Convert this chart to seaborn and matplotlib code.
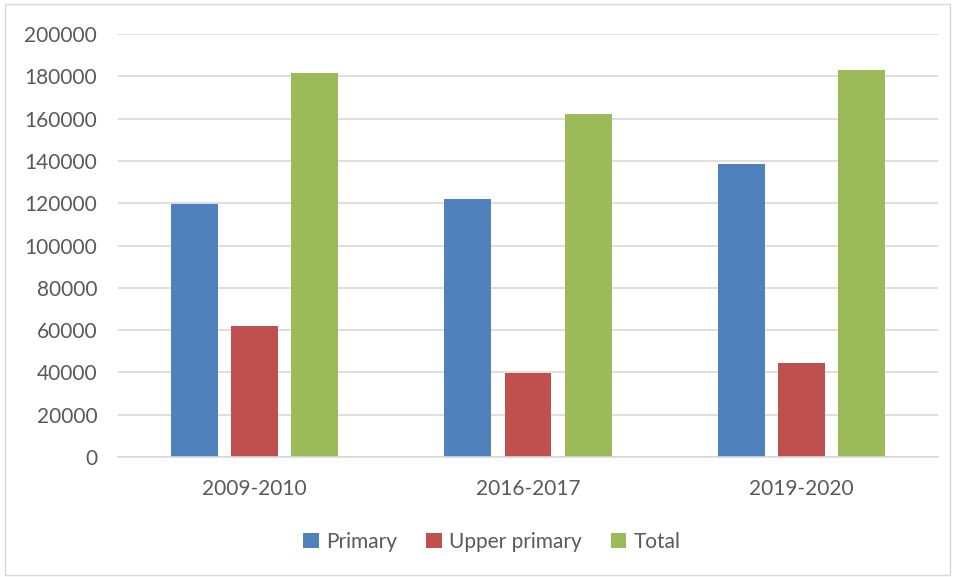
import matplotlib
matplotlib.use("Agg")
import matplotlib.pyplot as plt
import seaborn as sns
import pandas as pd
from matplotlib.patches import Rectangle

years = ["2009-2010", "2016-2017", "2019-2020"]
series = ["Primary", "Upper primary", "Total"]
primary = [119500, 122100, 138300]
upper_primary = [61900, 39700, 44500]
total = [181400, 162000, 183000]
colors = ["#4F81BD", "#C0504D", "#9BBB59"]
yticks = [0, 20000, 40000, 60000, 80000, 100000, 120000, 140000, 160000, 180000, 200000]

rows = []
for name, vals in zip(series, [primary, upper_primary, total]):
    for y, v in zip(years, vals):
        rows.append({"year": y, "series": name, "value": v})
df = pd.DataFrame(rows)

sns.set_theme(style="white")
plt.rcParams["font.family"] = ["Lato", "DejaVu Sans"]

fig = plt.figure(figsize=(9.55, 5.77), dpi=100)
ax = fig.add_axes([118/955, 1-457/577, 820/955, 423/577])

sns.barplot(data=df, x="year", y="value", hue="series", order=years,
            hue_order=series, palette=colors, width=0.66, gap=0.22,
            saturation=1, ax=ax, legend=True, edgecolor="none")

ax.set_xlim(-0.5, 2.5)
ax.set_ylim(0, 200000)
ax.set_yticks(yticks)
ax.set_yticklabels([str(t) for t in yticks])
ax.set_xlabel("")
ax.set_ylabel("")
ax.yaxis.grid(True, color="#D9D9D9", linewidth=1.2)
ax.set_axisbelow(True)
for s in ["top", "right", "left"]:
    ax.spines[s].set_visible(False)
ax.spines["bottom"].set_color("#D9D9D9")
ax.spines["bottom"].set_linewidth(1.2)
ax.tick_params(axis="both", length=0, labelsize=15, colors="#595959")
ax.tick_params(axis="y", pad=15)
ax.tick_params(axis="x", pad=16)

handles, labels = ax.get_legend_handles_labels()
ax.get_legend().remove()
fig.legend(handles, labels, loc="center", bbox_to_anchor=(0.515, 1-542/577),
           ncol=3, frameon=False, fontsize=15, handlelength=0.75,
           handleheight=0.75, handletextpad=0.35, columnspacing=1.4,
           labelcolor="#595959")

fig.patches.append(Rectangle((5/955, 2/577), 945/955, 571/577,
                             transform=fig.transFigure, fill=False,
                             edgecolor="#D9D9D9", linewidth=1))

fig.savefig("out.png", dpi=100)
